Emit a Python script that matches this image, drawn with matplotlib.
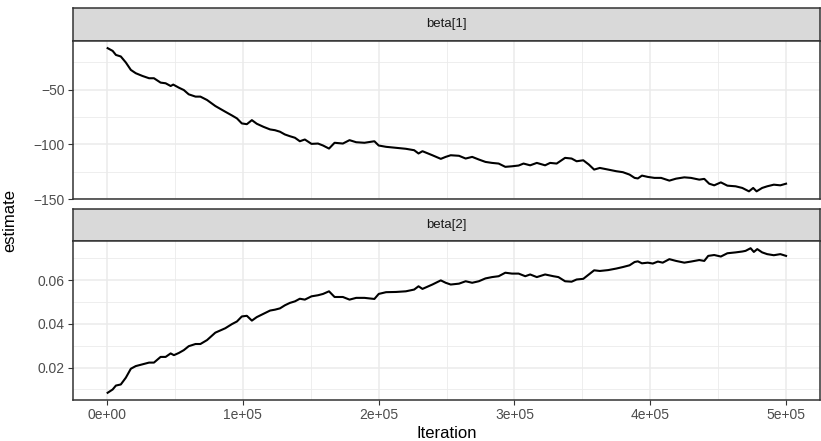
import matplotlib
matplotlib.use('Agg')
import matplotlib.pyplot as plt
import numpy as np

plt.rcParams['font.family'] = ['Liberation Sans', 'DejaVu Sans']

#==============================================================================
# Data
#==============================================================================

# iterations, in thousands
iter_b1 = [0.5, 4.2, 6.6, 10.2, 13.9, 17.6, 21.2, 26.1, 31.0, 34.6, 39.5, 43.2,
           46.9, 48.8, 52.9, 56.6, 60.2, 65.2, 68.8, 73.7, 79.8, 87.1, 92.0,
           95.7, 99.3, 103.0, 106.7, 110.3, 115.2, 120.1, 123.7, 127.4, 131.0,
           134.7, 138.4, 142.0, 145.7, 150.6, 155.4, 159.1, 163.5, 167.6,
           173.7, 178.6, 183.5, 189.6, 196.9, 200.1, 205.5, 212.8, 220.1,
           226.2, 229.4, 232.3, 239.6, 245.8, 249.4, 253.1, 259.2, 264.1,
           268.9, 273.8, 278.7, 283.5, 288.4, 293.3, 298.2, 303.1, 306.7,
           311.6, 316.5, 322.6, 326.3, 331.1, 337.3, 342.1, 345.8, 350.7,
           354.8, 358.7, 362.9, 369.0, 375.0, 379.9, 384.8, 388.5, 390.9,
           393.9, 398.2, 403.1, 408.0, 414.1, 419.0, 425.1, 430.0, 436.1,
           439.8, 443.4, 447.1, 452.0, 456.8, 462.9, 467.8, 472.7, 475.8,
           478.3, 482.4, 486.1, 491.0, 495.8, 500.0]
beta1 = [-12.1, -14.6, -18.3, -19.7, -25.2, -32.0, -35.0, -37.5, -39.6, -39.6,
         -43.6, -44.2, -46.7, -45.4, -48.2, -50.4, -54.3, -56.4, -56.4, -59.5,
         -65.0, -70.2, -73.6, -76.3, -80.9, -81.6, -77.9, -81.2, -84.0, -86.4,
         -87.1, -88.5, -91.0, -92.6, -94.0, -97.2, -95.6, -99.6, -99.3, -101.1,
         -103.9, -98.6, -99.3, -96.2, -98.1, -98.6, -97.2, -101.1, -102.3,
         -103.2, -104.1, -105.4, -108.4, -106.3, -110.0, -113.3, -111.5,
         -110.0, -110.5, -113.0, -111.5, -113.9, -116.1, -117.0, -117.6,
         -120.6, -120.1, -119.4, -117.6, -119.2, -117.0, -119.2, -117.0,
         -117.6, -112.4, -113.0, -115.5, -114.6, -118.5, -123.1, -121.6,
         -123.1, -124.6, -125.5, -127.7, -130.7, -131.2, -128.6, -129.8,
         -130.7, -130.7, -133.2, -131.4, -130.2, -130.7, -132.3, -131.6,
         -136.0, -137.5, -134.8, -137.8, -138.4, -139.9, -143.0, -139.9,
         -143.0, -139.9, -138.4, -136.9, -137.5, -136.0]

iter_b2 = [0.5, 4.2, 6.6, 10.2, 13.9, 17.6, 21.2, 26.1, 31.0, 34.6, 39.5, 43.2,
           46.9, 49.3, 52.9, 56.6, 60.2, 65.2, 68.8, 73.7, 79.8, 87.1, 92.0,
           95.7, 99.3, 103.0, 106.7, 110.3, 115.2, 120.1, 123.7, 127.4, 131.0,
           134.7, 138.4, 142.0, 145.7, 150.6, 155.4, 159.1, 163.5, 167.6,
           173.7, 178.6, 183.5, 189.6, 196.9, 200.1, 205.5, 212.8, 220.1,
           226.2, 229.4, 232.3, 239.6, 245.8, 249.4, 253.1, 259.2, 264.1,
           268.9, 273.8, 278.7, 283.5, 288.4, 293.3, 298.2, 303.1, 308.0,
           311.6, 316.5, 322.6, 328.7, 332.4, 337.3, 342.1, 345.8, 350.7,
           354.8, 358.7, 362.9, 369.0, 375.0, 379.9, 384.8, 388.5, 390.9,
           393.9, 398.2, 401.9, 405.6, 409.2, 414.1, 419.0, 425.1, 430.0,
           436.1, 439.8, 442.7, 447.1, 452.0, 456.8, 462.9, 467.8, 470.2,
           473.9, 476.3, 478.8, 482.4, 486.1, 491.0, 495.8, 500.0]
beta2 = [0.0085, 0.0100, 0.0118, 0.0123, 0.0154, 0.0195, 0.0207, 0.0215,
         0.0223, 0.0223, 0.0249, 0.0249, 0.0265, 0.0257, 0.0267, 0.0280,
         0.0298, 0.0308, 0.0308, 0.0326, 0.0360, 0.0380, 0.0399, 0.0411,
         0.0434, 0.0437, 0.0415, 0.0431, 0.0446, 0.0461, 0.0465, 0.0471,
         0.0485, 0.0496, 0.0503, 0.0515, 0.0511, 0.0526, 0.0531, 0.0537,
         0.0549, 0.0523, 0.0523, 0.0511, 0.0519, 0.0519, 0.0514, 0.0537,
         0.0545, 0.0546, 0.0549, 0.0557, 0.0572, 0.0560, 0.0580, 0.0599,
         0.0588, 0.0580, 0.0584, 0.0595, 0.0588, 0.0595, 0.0608, 0.0614,
         0.0618, 0.0634, 0.0630, 0.0630, 0.0618, 0.0626, 0.0614, 0.0626,
         0.0618, 0.0614, 0.0595, 0.0593, 0.0603, 0.0606, 0.0626, 0.0645,
         0.0642, 0.0646, 0.0653, 0.0660, 0.0668, 0.0683, 0.0686, 0.0677,
         0.0680, 0.0676, 0.0685, 0.0680, 0.0696, 0.0688, 0.0680, 0.0685,
         0.0692, 0.0688, 0.0711, 0.0715, 0.0708, 0.0723, 0.0727, 0.0731,
         0.0734, 0.0746, 0.0729, 0.0742, 0.0727, 0.0719, 0.0714, 0.0719,
         0.0711]

facet_labels = ['beta[1]', 'beta[2]']
x_ticks = [0, 100000, 200000, 300000, 400000, 500000]
x_ticklabels = ['0e+00', '1e+05', '2e+05', '3e+05', '4e+05', '5e+05']
y_ticks = [[-150, -100, -50], [0.02, 0.04, 0.06]]
y_ticklabels = [['\u2212150', '\u2212100', '\u221250'], ['0.02', '0.04', '0.06']]
y_minor = [[-125, -75, -25], [0.01, 0.03, 0.05, 0.07]]

#==============================================================================
# Figure
#==============================================================================

W, H = 821, 441
fig = plt.figure(figsize=(W / 100, H / 100), dpi=100)
fig.patch.set_facecolor('white')

left, right = 73, 820
# (strip top, strip bottom / panel top, panel bottom) in pixels
rows = [(8, 41, 199), (209, 241, 400)]

border = '#333333'
series = [(iter_b1, beta1), (iter_b2, beta2)]

for n, (s_top, p_top, p_bot) in enumerate(rows):
    # strip
    sax = fig.add_axes([left / W, 1 - p_top / H, (right - left) / W,
                        (p_top - s_top) / H])
    sax.set_facecolor('#D9D9D9')
    sax.set_xticks([])
    sax.set_yticks([])
    for sp in sax.spines.values():
        sp.set_color(border)
        sp.set_linewidth(1.1)
    sax.text(0.5, 0.5, facet_labels[n], transform=sax.transAxes,
             ha='center', va='center', fontsize=9.5, color='#1A1A1A')

    # panel
    ax = fig.add_axes([left / W, 1 - p_bot / H, (right - left) / W,
                       (p_bot - p_top) / H])
    it = np.array(series[n][0]) * 1000
    est = np.array(series[n][1])
    ax.plot(it, est, color='black', linewidth=1.5, zorder=3)

    lo, hi = est.min(), est.max()
    pad = 0.05 * (hi - lo)
    ax.set_ylim(lo - pad, hi + pad)
    ax.set_xlim(-25000, 525000)

    ax.set_yticks(y_ticks[n])
    ax.set_yticklabels(y_ticklabels[n])
    ax.set_yticks(y_minor[n], minor=True)
    ax.set_xticks(x_ticks)
    ax.set_xticks([50000, 150000, 250000, 350000, 450000], minor=True)
    ax.grid(which='major', color='#EBEBEB', linewidth=1.1, zorder=0)
    ax.grid(which='minor', color='#EBEBEB', linewidth=0.6, zorder=0)
    ax.set_axisbelow(True)

    ax.tick_params(which='minor', length=0)
    ax.tick_params(which='major', length=3.5, width=0.8, color=border,
                   labelsize=10, labelcolor='#4D4D4D', pad=2.5)
    if n == 1:
        ax.set_xticklabels(x_ticklabels)
    else:
        ax.tick_params(axis='x', which='major', length=0, labelbottom=False)
    for sp in ax.spines.values():
        sp.set_color(border)
        sp.set_linewidth(1.1)

fig.text(10 / W, 1 - 221 / H, 'estimate', rotation=90, ha='center',
         va='center', fontsize=12, color='black')
fig.text((left + right) / 2 / W, 1 - 433 / H, 'Iteration', ha='center',
         va='center', fontsize=12, color='black')

fig.savefig('out.png', dpi=100)
